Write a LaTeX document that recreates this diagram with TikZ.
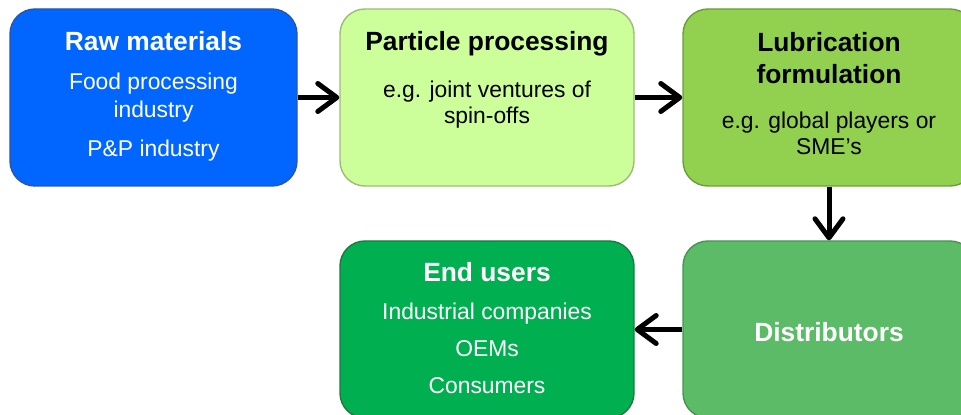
\documentclass[tikz,border=0pt]{standalone}
\usepackage{fontspec}
\setmainfont{Liberation Sans}
\usepackage{tikz}
\usetikzlibrary{arrows.meta,positioning}
\definecolor{rawblue}{HTML}{0066FF}
\definecolor{rawline}{HTML}{2A56A8}
\definecolor{paleg}{HTML}{CCFF99}
\definecolor{palegline}{HTML}{9DBB78}
\definecolor{limeg}{HTML}{92D050}
\definecolor{limegline}{HTML}{6E9C3A}
\definecolor{midg}{HTML}{5BBB66}
\definecolor{midgline}{HTML}{4A9352}
\definecolor{deepg}{HTML}{00B050}
\definecolor{deepgline}{HTML}{1D7A3E}
\newcommand{\ttl}{\fontsize{15}{18}\selectfont\bfseries}

\begin{document}
\begin{tikzpicture}[
  stage/.style={draw, line width=0.8pt, rounded corners=0.5cm, minimum height=3.54cm},
  txt/.style={align=center, inner sep=0pt, font=\fontsize{13}{14.8}\selectfont},
  flow/.style={line width=0.1cm, -{Straight Barb[length=3.8mm,width=5.6mm,round]}}
]
  \useasboundingbox (0,0) rectangle (19.22,8.28);
  \clip (0,0) rectangle (19.22,8.28);

  % top row
  \node[stage, fill=rawblue, draw=rawline, minimum width=5.74cm] (raw) at (3.07,6.33) {};
  \node[stage, fill=paleg, draw=palegline, minimum width=5.88cm] (part) at (9.74,6.33) {};
  \node[stage, fill=limeg, draw=limegline, minimum width=5.84cm] (lub) at (16.58,6.33) {};

  % bottom row
  \node[stage, fill=midg, draw=midgline, minimum width=5.84cm] (dist) at (16.58,1.69) {};
  \node[stage, fill=deepg, draw=deepgline, minimum width=5.88cm] (end) at (9.74,1.69) {};

  % texts
  \node[txt, white, anchor=north, below=0.46cm of raw.north] (rawtxt)
    {{\ttl Raw materials}\\[7pt] Food processing\\[1.5pt] industry\\[7pt] P\&P industry};
  \node[txt, anchor=north, below=0.46cm of part.north] (parttxt)
    {{\ttl Particle processing}\\[11.9pt] e.g. joint ventures of\\ spin-offs};
  \node[txt, anchor=north, below=0.48cm of lub.north] (lubtxt)
    {{\ttl Lubrication}\\[3pt] {\ttl formulation}\\[11.2pt] e.g. global players or\\ SME's};
  \node[txt, white, anchor=north, below=0.44cm of end.north] (endtxt)
    {{\ttl End users}\\[6.8pt] Industrial companies\\[6.2pt] OEMs\\[6.2pt] Consumers};
  \node[txt, white, yshift=-0.05cm] (disttxt) at (dist) {\ttl Distributors};

  % arrows
  \draw[flow] (raw) -- (part);
  \draw[flow] (part) -- (lub);
  \draw[flow] (lub) -- (dist);
  \draw[flow] (dist) -- (end);
\end{tikzpicture}
\end{document}
